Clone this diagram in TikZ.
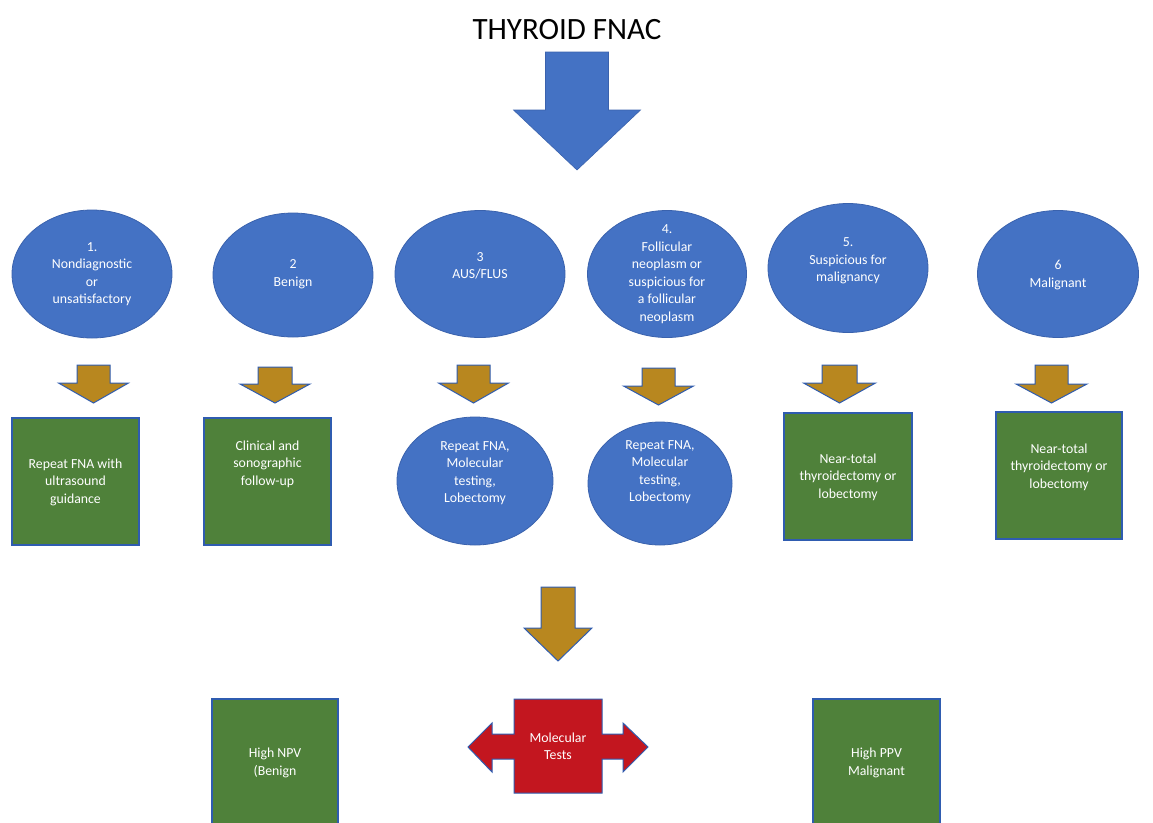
\documentclass[tikz,border=0pt]{standalone}
\usepackage{fontspec}
\setmainfont{Carlito}
\usetikzlibrary{shapes.geometric}
\definecolor{eblue}{HTML}{4472C4}
\definecolor{eborder}{HTML}{3A62AD}
\definecolor{bblue}{HTML}{2F5CB0}
\definecolor{ggreen}{HTML}{4F813A}
\definecolor{gold}{HTML}{B8871F}
\definecolor{rred}{HTML}{C3161F}
\newcommand\lbfont{\fontsize{13.8}{17.5}\selectfont}
\newcommand\ttlfont{\fontsize{31}{35}\selectfont}
% down block arrow: style, cx, top, half shaft, half head, head y, tip y
\newcommand\downblock[7]{%
  \draw[#1] (#2-#4,#3) -- (#2+#4,#3) -- (#2+#4,#6) -- (#2+#5,#6) -- (#2,#7)
    -- (#2-#5,#6) -- (#2-#4,#6) -- cycle;}
\begin{document}
\begin{tikzpicture}[x=1pt,y=-1pt,
  ell/.style={ellipse, fill=eblue, draw=eborder, line width=0.8pt, inner sep=0pt},
  gbox/.style={rectangle, fill=ggreen, draw=bblue, line width=1.2pt, inner sep=0pt},
  lbl/.style={text=white, align=center, font=\lbfont, inner sep=0pt},
  garrow/.style={fill=gold, draw=bblue, line width=1pt, line join=miter},
  barrow/.style={fill=eblue, draw=eborder, line width=0.6pt},
]
\clip (0,0) rectangle (1153,822);
\fill[white] (0,0) rectangle (1153,822);

% title
\node[font=\ttlfont, inner sep=0pt] (title) at (567,30) {THYROID FNAC};
\downblock{barrow}{577}{52}{31.5}{63.5}{110}{170}

% first row ellipses
\node[ell, minimum width=160, minimum height=128] (e1) at (92,274) {};
\node[ell, minimum width=160, minimum height=124] (e2) at (293,275) {};
\node[ell, minimum width=170, minimum height=127] (e3) at (480,274) {};
\node[ell, minimum width=159, minimum height=127] (e4) at (667,274) {};
\node[ell, minimum width=160, minimum height=129] (e5) at (848,268) {};
\node[ell, minimum width=161, minimum height=127] (e6) at (1058,274) {};

\node[lbl] (t1) at (92,274) {1.\\Nondiagnostic\\or\\unsatisfactory};
\node[lbl] (t2) at (293,274) {2\\Benign};
\node[lbl] (t3) at (480,266) {3\\AUS/FLUS};
\node[lbl] (t4) at (667,274) {4.\\Follicular\\neoplasm or\\suspicious for\\a follicular\\neoplasm};
\node[lbl] (t5) at (848,261) {5.\\Suspicious for\\malignancy};
\node[lbl] (t6) at (1058,275) {6\\Malignant};

% gold arrows
\downblock{garrow}{93.5}{365}{16.5}{35}{383}{403}
\downblock{garrow}{275}{367}{17}{35}{384}{403}
\downblock{garrow}{473.5}{365}{16.5}{35}{383}{403}
\downblock{garrow}{658.5}{368}{16.5}{35}{386}{405}
\downblock{garrow}{839.5}{365}{17.5}{36}{383}{403}
\downblock{garrow}{1051.5}{365}{16.5}{35.5}{384}{403}

% second row
\node[gbox, minimum width=127, minimum height=127] (b1) at (75.5,481.5) {};
\node[gbox, minimum width=127, minimum height=127] (b2) at (267.5,481.5) {};
\node[ell, minimum width=156, minimum height=128] (b3) at (475,481) {};
\node[ell, minimum width=144, minimum height=123] (b4) at (660,483.5) {};
\node[gbox, minimum width=128, minimum height=127] (b5) at (848,476.5) {};
\node[gbox, minimum width=126, minimum height=127] (b6) at (1059,475.5) {};

\node[lbl] (s1) at (75.5,482) {Repeat FNA with\\ultrasound\\guidance};
\node[lbl] (s2) at (267.5,464) {Clinical and\\sonographic\\follow-up};
\node[lbl] (s3) at (475,473) {Repeat FNA,\\Molecular\\testing,\\Lobectomy};
\node[lbl] (s4) at (660,472) {Repeat FNA,\\Molecular\\testing,\\Lobectomy};
\node[lbl] (s5) at (848,477) {Near-total\\thyroidectomy or\\lobectomy};
\node[lbl] (s6) at (1059,467) {Near-total\\thyroidectomy or\\lobectomy};

% bottom arrow
\downblock{garrow}{558}{587}{17}{34}{628}{661}

% molecular tests double arrow
\draw[fill=rred, draw=bblue, line width=1pt, line join=miter]
  (514,699) -- (602,699) -- (602,734) -- (623,734) -- (623,723) -- (648,747)
  -- (623,772) -- (623,759) -- (602,759) -- (602,793) -- (514,793) -- (514,759)
  -- (492,759) -- (492,772) -- (468,747) -- (492,723) -- (492,734) -- (514,734) -- cycle;
\node[lbl] (mt) at (558,746) {Molecular\\Tests};

% bottom boxes
\node[gbox, minimum width=126, minimum height=140] (npv) at (275,769) {};
\node[gbox, minimum width=127, minimum height=140] (ppv) at (876.5,769) {};
\node[lbl] (n1) at (275,763) {High NPV\\(Benign};
\node[lbl] (p1) at (876.5,763) {High PPV\\Malignant};
\end{tikzpicture}
\end{document}
